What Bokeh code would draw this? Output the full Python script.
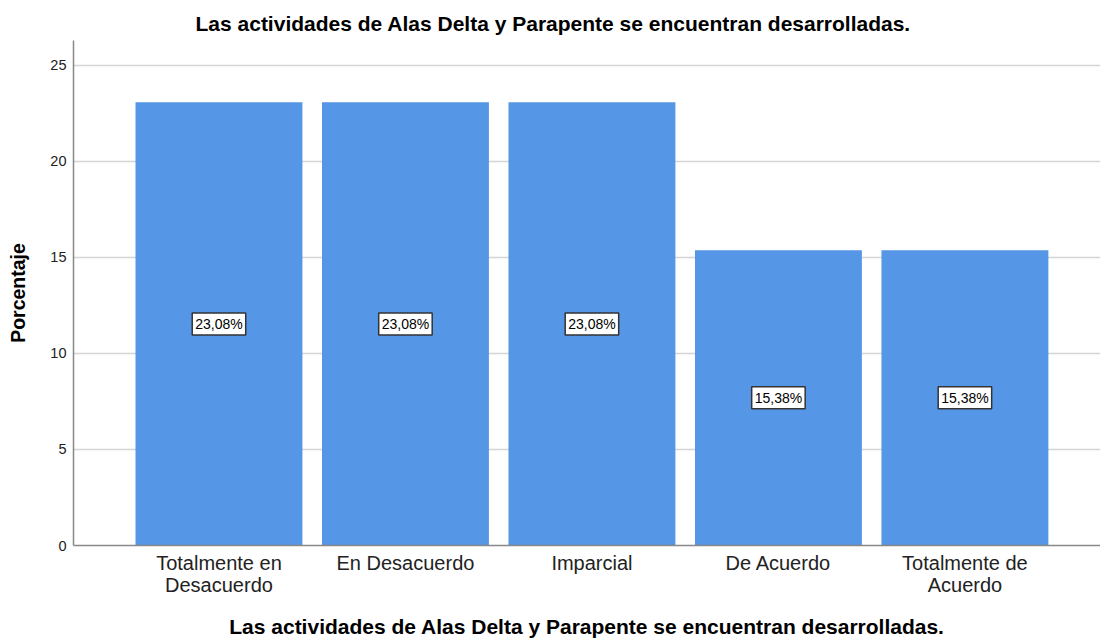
from bokeh.plotting import figure
from bokeh.models import ColumnDataSource, FixedTicker, Range1d
from bokeh.core.properties import value
from bokeh.embed import file_html
from bokeh.resources import INLINE

categories = ["Totalmente en\nDesacuerdo", "En Desacuerdo", "Imparcial", "De Acuerdo", "Totalmente de\nAcuerdo"]
percentages = [23.08, 23.08, 23.08, 15.38, 15.38]
label_texts = ["23,08%", "23,08%", "23,08%", "15,38%", "15,38%"]
y_ticks = [0, 5, 10, 15, 20, 25]

xs = list(range(1, len(categories) + 1))
source = ColumnDataSource(dict(
    x=xs,
    top=percentages,
    mid=[v / 2 for v in percentages],
    lab=label_texts,
))

FONT = "Liberation Sans"

p = figure(width=1100, height=641, output_backend="svg", toolbar_location=None,
           x_range=Range1d(0.22, 5.727), y_range=Range1d(0, 26.3),
           min_border_left=73, min_border_top=40, min_border_bottom=96, min_border_right=0)

p.title.text = "Las actividades de Alas Delta y Parapente se encuentran desarrolladas."
p.title.align = "left"
p.title.text_font = FONT
p.title.text_font_size = "21px"
p.title.text_font_style = "bold"
p.title.text_color = "black"
p.title.offset = 122
p.title.standoff = 12

p.vbar(x="x", top="top", width=0.895, bottom=0, source=source,
       fill_color="#5596E6", line_color=None)

p.text(x="x", y="mid", text="lab", source=source,
       text_align="center", text_baseline="middle",
       text_font=value(FONT), text_font_size="14px", text_color="black",
       background_fill_color="white", border_line_color="#333333",
       border_line_width=1.5, padding=3)

p.outline_line_color = None
p.background_fill_color = "white"

p.xgrid.grid_line_color = None
p.ygrid.grid_line_color = "#d4d4d4"
p.ygrid.grid_line_width = 1.5
p.ygrid.ticker = FixedTicker(ticks=y_ticks)

p.yaxis.ticker = FixedTicker(ticks=y_ticks)
p.yaxis.axis_label = "Porcentaje"
p.yaxis.axis_label_text_font = FONT
p.yaxis.axis_label_text_font_size = "19.5px"
p.yaxis.axis_label_text_font_style = "bold"
p.yaxis.axis_label_text_color = "black"
p.yaxis.axis_label_standoff = 18
p.yaxis.major_label_text_font = FONT
p.yaxis.major_label_text_font_size = "14.5px"
p.yaxis.major_label_text_color = "#222222"
p.yaxis.major_tick_out = 0
p.yaxis.major_tick_in = 0
p.yaxis.minor_tick_out = 0
p.yaxis.minor_tick_in = 0
p.yaxis.major_label_standoff = 7
p.yaxis.axis_line_color = "#888888"
p.yaxis.axis_line_width = 1.5

p.xaxis.ticker = FixedTicker(ticks=xs)
p.xaxis.major_label_overrides = {x: c for x, c in zip(xs, categories)}
p.xaxis.axis_label = "Las actividades de Alas Delta y Parapente se encuentran desarrolladas."
p.xaxis.axis_label_text_font = FONT
p.xaxis.axis_label_text_font_size = "21px"
p.xaxis.axis_label_text_font_style = "bold"
p.xaxis.axis_label_text_color = "black"
p.xaxis.axis_label_standoff = 16
p.xaxis.major_label_text_font = FONT
p.xaxis.major_label_text_font_size = "20px"
p.xaxis.major_label_text_line_height = 1.0
p.xaxis.major_label_text_color = "#222222"
p.xaxis.major_tick_out = 0
p.xaxis.major_tick_in = 0
p.xaxis.minor_tick_out = 0
p.xaxis.minor_tick_in = 0
p.xaxis.major_label_standoff = 6
p.xaxis.axis_line_color = "#888888"
p.xaxis.axis_line_width = 1.5

open("out.html", "w").write(file_html(p, INLINE))
